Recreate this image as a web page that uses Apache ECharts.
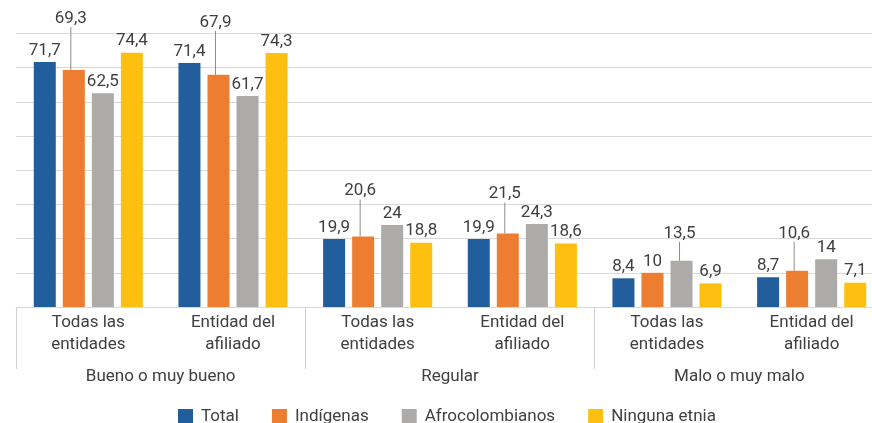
<!DOCTYPE html>
<html>
<head>
<meta charset="utf-8">
<script src="https://cdn.jsdelivr.net/npm/echarts@6/dist/echarts.min.js"></script>
<style>
  html, body { margin: 0; padding: 0; background: #fff; }
  #chart { width: 872px; height: 423px; }
</style>
</head>
<body>
<div id="chart"></div>
<script>
const categories = [
  'Todas las\nentidades', 'Entidad del\nafiliado',
  'Todas las\nentidades', 'Entidad del\nafiliado',
  'Todas las\nentidades', 'Entidad del\nafiliado'
];
const groups = ['Bueno o muy bueno', 'Regular', 'Malo o muy malo'];
const seriesNames = ['Total', 'Indígenas', 'Afrocolombianos', 'Ninguna etnia'];
const total = [71.7, 71.4, 19.9, 19.9, 8.4, 8.7];
const indigenas = [69.3, 67.9, 20.6, 21.5, 10, 10.6];
const afro = [62.5, 61.7, 24, 24.3, 13.5, 14];
const ninguna = [74.4, 74.3, 18.8, 18.6, 6.9, 7.1];

const colors = ['#215e9b', '#ed7d31', '#adaaaa', '#fdc010'];
const textColor = '#404040';

// labels moved up with a leader line: "series-index": [dx, dy]
const labelShift = {
  '1-0': [-3, -40],
  '1-1': [-3, -41],
  '1-2': [-3, -34],
  '1-3': [-3, -28],
  '1-5': [-3, -26],
  '2-4': [-2, -16]
};

function fmt(v) {
  return String(v).replace('.', ',');
}

function buildSeries(name, values, si) {
  return {
    name: name,
    type: 'bar',
    barWidth: 22,
    barGap: '32%',
    itemStyle: { color: colors[si] },
    label: {
      show: true,
      position: 'top',
      distance: 3,
      color: textColor,
      fontSize: 17,
      fontFamily: 'Roboto',
      formatter: p => fmt(p.value)
    },
    labelLine: { show: false },
    labelLayout: function (p) {
      const s = labelShift[si + '-' + p.dataIndex];
      return s ? { dx: s[0], dy: s[1] } : {};
    },
    data: values.map((v, i) => {
      if (labelShift[si + '-' + i]) {
        return { value: v, labelLine: { show: true, lineStyle: { color: '#8c8c8c', width: 1 } } };
      }
      return v;
    })
  };
}

const chart = echarts.init(document.getElementById('chart'));
const option = {
  animation: false,
  textStyle: { fontFamily: 'Roboto' },
  grid: { left: 16, width: 868, top: 33.5, bottom: 116, outerBoundsMode: 'none', containLabel: false },
  legend: {
    top: 408,
    left: 178,
    padding: 0,
    itemWidth: 15,
    itemHeight: 15,
    itemGap: 33,
    icon: 'rect',
    textStyle: { color: textColor, fontSize: 17, fontFamily: 'Roboto', padding: [0, 0, 0, 3] },
    data: seriesNames
  },
  xAxis: [
    {
      type: 'category',
      data: categories,
      axisLine: { lineStyle: { color: '#d9d9d9', width: 1 } },
      axisTick: { show: false },
      axisLabel: {
        color: textColor,
        fontSize: 17,
        lineHeight: 22,
        margin: 5,
        interval: 0
      }
    },
    {
      type: 'category',
      data: groups,
      position: 'bottom',
      axisLine: { show: false },
      axisTick: { show: true, length: 62, lineStyle: { color: '#d0d0d0', width: 1 } },
      axisLabel: {
        color: textColor,
        fontSize: 17,
        lineHeight: 18,
        margin: 61,
        interval: 0
      }
    }
  ],
  yAxis: {
    type: 'value',
    min: 0,
    max: 80,
    interval: 10,
    axisLabel: { show: false },
    axisLine: { show: false },
    axisTick: { show: false },
    splitLine: { lineStyle: { color: '#d9d9d9', width: 1 } }
  },
  series: [
    buildSeries(seriesNames[0], total, 0),
    buildSeries(seriesNames[1], indigenas, 1),
    buildSeries(seriesNames[2], afro, 2),
    buildSeries(seriesNames[3], ninguna, 3)
  ]
};
chart.setOption(option);
window.addEventListener('resize', function () {
  chart.resize();
});
</script>
</body>
</html>
